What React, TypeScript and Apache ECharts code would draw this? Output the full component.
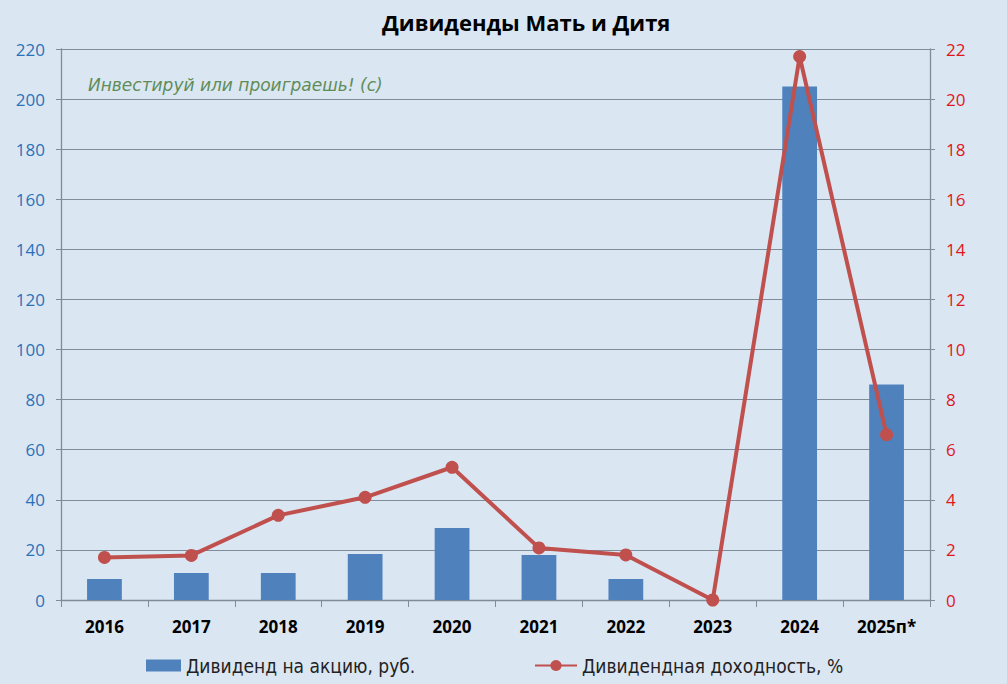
import React, { useEffect, useRef } from "react";
import * as echarts from "echarts";

const categories = ["2016", "2017", "2018", "2019", "2020", "2021", "2022", "2023", "2024", "2025п*"];
const dividends = [8.4, 10.8, 10.8, 18.4, 28.7, 18, 8.4, 0, 205, 86];
const yieldPct = [1.7, 1.78, 3.38, 4.1, 5.3, 2.08, 1.8, 0, 21.7, 6.6];
const leftTicks = { min: 0, max: 220, interval: 20 };
const rightTicks = { min: 0, max: 22, interval: 2 };

const FONT = "'Open Sans', 'Noto Sans', sans-serif";
const NARROW = "'Liberation Sans Narrow', 'DejaVu Sans Condensed', 'Open Sans', sans-serif";

export default function App() {
  const ref = useRef<HTMLDivElement>(null);
  useEffect(() => {
    const chart = echarts.init(ref.current!, null, { renderer: "svg" });
    chart.setOption({
      animation: false,
      backgroundColor: "#dbe6f3",
      textStyle: { fontFamily: FONT },
      title: {
        text: "Дивиденды Мать и Дитя",
        left: 377,
        top: 6,
        textStyle: { fontSize: 22, fontWeight: "bold", color: "#000", fontFamily: FONT },
      },
      grid: { left: 61, right: 77, top: 49, bottom: 84 },
      legend: [
        {
          top: 651,
          left: 141,
          itemWidth: 35,
          itemHeight: 12,
          itemGap: 5,
          textStyle: { fontSize: 19, color: "#222", fontFamily: NARROW },
          data: [{ name: "Дивиденд на акцию, руб.", icon: "rect" }],
        },
        {
          top: 651,
          left: 529,
          itemWidth: 42,
          itemHeight: 14,
          textStyle: { fontSize: 19, color: "#222", fontFamily: NARROW },
          data: [{ name: "Дивидендная доходность, %" }],
        },
      ],
      graphic: [
        {
          type: "text",
          left: 88,
          top: 76,
          style: {
            text: "Инвестируй или проиграешь! (с)",
            fill: "#5f8d57",
            font: "italic 17px 'DejaVu Sans', sans-serif",
          },
        },
      ],
      xAxis: {
        type: "category",
        data: categories,
        axisLine: { lineStyle: { color: "#7f8c99", width: 1.3 } },
        axisTick: { show: true, length: 7, lineStyle: { color: "#7f8c99" } },
        axisLabel: { fontSize: 17, fontWeight: "bold", color: "#000", margin: 18, fontFamily: FONT },
      },
      yAxis: [
        {
          type: "value",
          ...leftTicks,
          position: "left",
          axisLine: { show: true, lineStyle: { color: "#7f8c99", width: 1.3 } },
          axisTick: { show: true, length: 5, lineStyle: { color: "#7f8c99" } },
          axisLabel: { fontSize: 17, color: "#2a72b8", margin: 16, fontFamily: FONT },
          splitLine: { lineStyle: { color: "#7f8c99", width: 1 } },
        },
        {
          type: "value",
          ...rightTicks,
          position: "right",
          axisLine: { show: true, lineStyle: { color: "#7f8c99", width: 1.3 } },
          axisTick: { show: true, length: 5, lineStyle: { color: "#7f8c99" } },
          axisLabel: { fontSize: 17, color: "#e0161b", margin: 16, fontFamily: FONT },
          splitLine: { show: false },
        },
      ],
      series: [
        {
          name: "Дивиденд на акцию, руб.",
          type: "bar",
          data: dividends,
          barWidth: "40%",
          itemStyle: { color: "#4f81bd" },
          yAxisIndex: 0,
        },
        {
          name: "Дивидендная доходность, %",
          type: "line",
          data: yieldPct,
          yAxisIndex: 1,
          symbol: "circle",
          symbolSize: 13,
          lineStyle: { color: "#c0504d", width: 4 },
          itemStyle: { color: "#c0504d" },
        },
      ],
    });
    return () => chart.dispose();
  }, []);
  return <div ref={ref} style={{ width: 1007, height: 684, position: "absolute", left: 0, top: 0 }} />;
}
